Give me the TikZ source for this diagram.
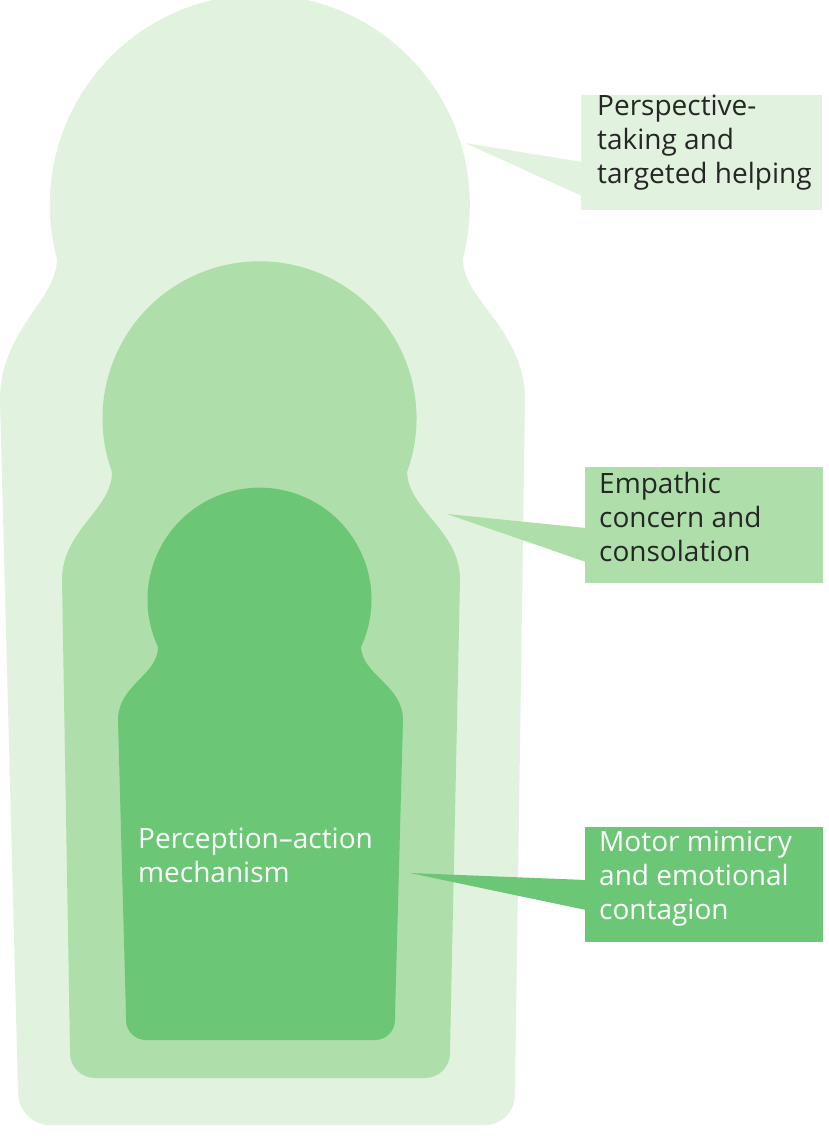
\documentclass[tikz,border=0pt]{standalone}
\usepackage{fontspec}
\setmainfont{Open Sans}
\begin{document}
\begin{tikzpicture}[x=1pt,y=-1pt,
  lbl/.style={anchor=north west,align=left,inner sep=0pt,font=\fontsize{28}{34}\selectfont,text=black!85},
  box/.style={inner sep=0pt}]
\definecolor{c1}{HTML}{E1F2DE}
\definecolor{c2}{HTML}{AEDFAA}
\definecolor{c3}{HTML}{6BC675}
\useasboundingbox (0,0) rectangle (829,1143);
% outer
\fill[c1] (18,1090) -- (0,400) .. controls (0,330) and (57,300) .. (57,259)
  arc[start angle=165,end angle=375,radius=210]
  .. controls (463,300) and (525,330) .. (525,400) -- (515,1090)
  [rounded corners=30] -- (515,1125) -- (20,1125) [sharp corners] -- (18,1090) -- cycle;
% middle
\fill[c2] (70,1050) -- (62,580) .. controls (62,530) and (112,510) .. (112,472)
  arc[start angle=160,end angle=380,radius=157]
  .. controls (408,510) and (460,530) .. (460,580) -- (450,1050)
  [rounded corners=25] -- (450,1078) -- (70,1078) [sharp corners] -- (70,1050) -- cycle;
% inner
\fill[c3] (126,1015) -- (118,720) .. controls (118,685) and (158,675) .. (158,647)
  arc[start angle=155,end angle=385,radius=112]
  .. controls (362,675) and (403,685) .. (403,720) -- (395,1015)
  [rounded corners=20] -- (395,1040) -- (126,1040) [sharp corners] -- (126,1015) -- cycle;
% callouts
\coordinate (t1) at (465,143);
\coordinate (t2) at (447,514);
\coordinate (t3) at (410,873);
\fill[c1] (581,95) rectangle (822,210);
\fill[c2] (585,467) rectangle (823,583);
\fill[c3] (585,827) rectangle (823,942);
\fill[c1] (t1) -- (582,162) -- (582,196) -- cycle;
\fill[c2] (t2) -- (586,528) -- (586,562) -- cycle;
\fill[c3] (t3) -- (586,880) -- (586,910) -- cycle;
\node[lbl] (l1) at (597,95) {Perspective-\\taking and\\targeted helping};
\node[lbl] (l2) at (599,472) {Empathic\\concern and\\consolation};
\node[lbl,text=white] (l3) at (599,831) {Motor mimicry\\and emotional\\contagion};
\node[lbl,text=white] (l4) at (138,828) {Perception–action\\mechanism};
\end{tikzpicture}
\end{document}
